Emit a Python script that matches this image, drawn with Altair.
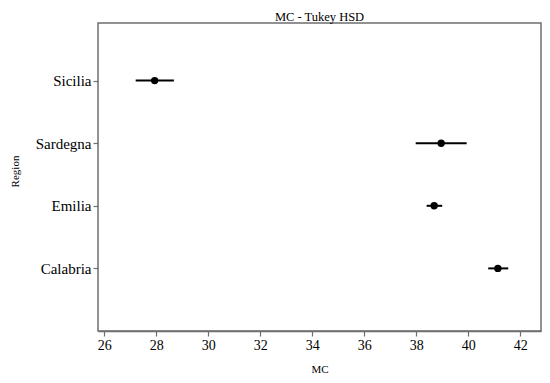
import altair as alt
import pandas as pd

regions = ["Sicilia", "Sardegna", "Emilia", "Calabria"]
means = [27.94, 38.96, 38.69, 41.14]
lows = [27.21, 37.98, 38.40, 40.77]
highs = [28.68, 39.94, 39.00, 41.54]
x_ticks = [26, 28, 30, 32, 34, 36, 38, 40, 42]

df = pd.DataFrame({"Region": regions, "MC": means, "low": lows, "high": highs})

FONT = "Liberation Serif"
AX = "#6e6e6e"

x_scale = alt.Scale(domain=[25.76, 42.8], nice=False, zero=False)
y_enc = alt.Y(
    "Region:N",
    sort=regions,
    scale=alt.Scale(type="point", padding=1, range=[-5, 308]),
    axis=alt.Axis(title="Region", titleX=-78, titleY=148, titleAngle=270,
                  titleBaseline="bottom", titleAlign="center", labelFontSize=15,
                  domain=False),
)

rules = alt.Chart(df).mark_rule(color="black", strokeWidth=2).encode(
    x=alt.X("low:Q", scale=x_scale,
            axis=alt.Axis(title="MC", values=x_ticks, titleY=32)),
    x2="high:Q",
    y=y_enc,
)

points = alt.Chart(df).mark_circle(color="black", size=55, opacity=1).encode(
    x=alt.X("MC:Q", scale=x_scale),
    y=alt.Y("Region:N", sort=regions),
)

chart = (
    alt.layer(rules, points)
    .properties(
        width=443,
        height=308,
        autosize=alt.AutoSizeParams(type="none"),
        padding={"left": 90, "top": 15, "right": 1, "bottom": 44},
        title=alt.TitleParams("MC - Tukey HSD", font=FONT, fontSize=12.5,
                              fontWeight="normal", color="black", offset=0),
    )
    .configure_axis(
        labelFont=FONT, labelFontSize=14, labelColor="black",
        titleFont=FONT, titleFontSize=11, titleFontWeight="normal", titleColor="black",
        domainColor=AX, domainWidth=1.5, tickColor=AX, tickSize=5, tickWidth=1.2,
        grid=False, labelPadding=2,
    )
    .configure_view(stroke=AX, strokeWidth=1.5)
)

chart.save("out.html", embed_options={"renderer": "svg", "actions": False})
